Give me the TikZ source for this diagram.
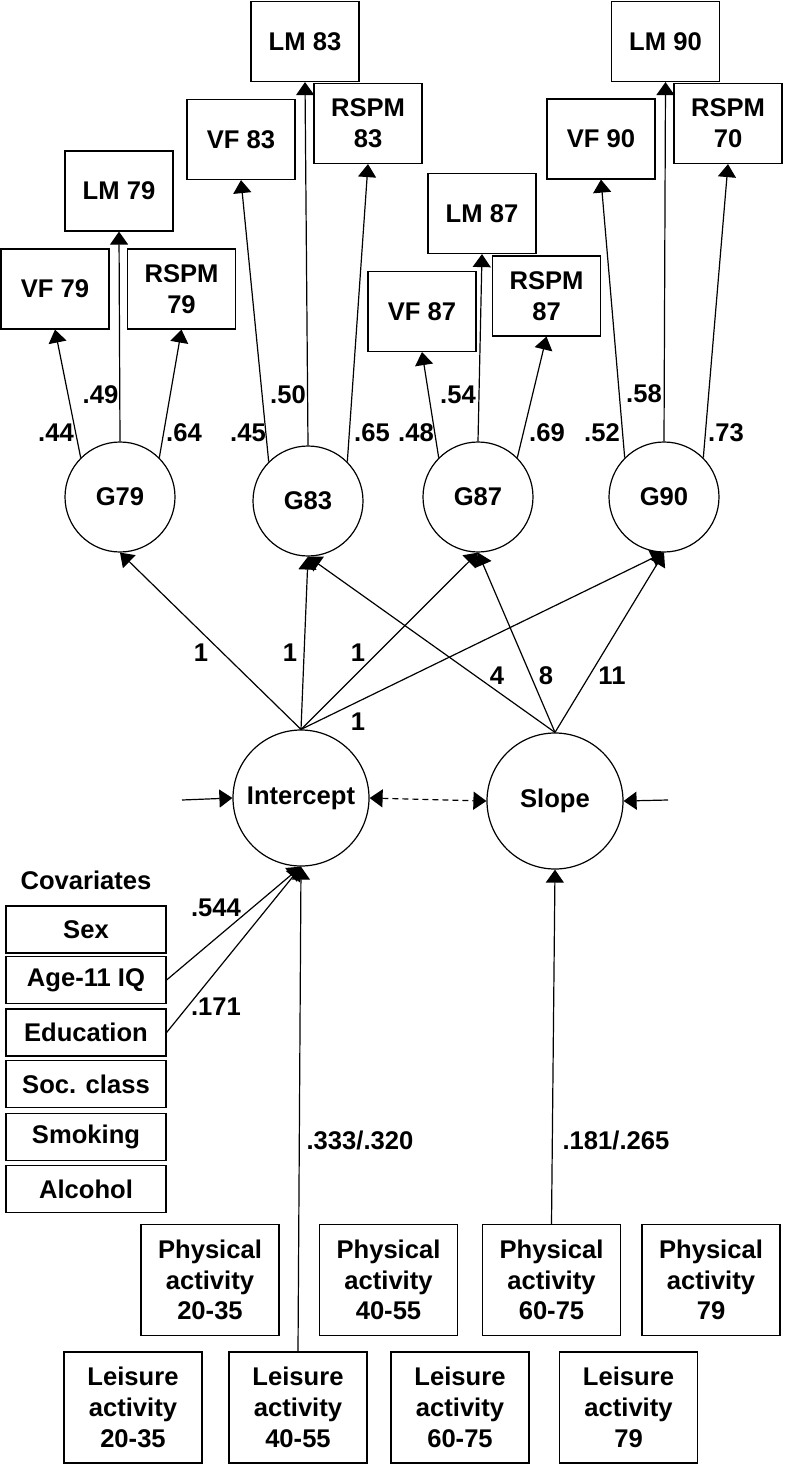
\documentclass[tikz,border=0pt]{standalone}
\usepackage{fontspec}
\setmainfont{Liberation Sans}
\usetikzlibrary{arrows.meta}
\tikzset{>={Triangle[length=6.5pt,width=9pt]}}

\begin{document}
\begin{tikzpicture}[x=0.5pt,y=-0.5pt,font=\fontsize{12.8}{15.4}\selectfont\bfseries]
            \tikzset{box/.style={draw, line width=0.6pt, minimum width=54pt, minimum height=40pt, inner sep=0pt, align=center},
                latent/.style={draw, circle, line width=0.6pt, minimum size=55pt, inner sep=0pt},
                growth/.style={draw, circle, line width=0.6pt, minimum size=68pt, inner sep=0pt},
                covbox/.style={draw, line width=0.6pt, minimum width=80pt, minimum height=23.5pt, inner sep=0pt},
                actbox/.style={draw, line width=0.6pt, minimum width=69pt, minimum height=55.5pt, inner sep=0pt, align=center},
                edge/.style={->, line width=0.6pt},
                weight/.style={inner sep=0pt}}
            \useasboundingbox (0,0) rectangle (784,1466);
            \node[box] (vf79) at (55,289) {VF 79};
            \node[box] (lm79) at (119,191) {LM 79};
            \node[box] (rs79) at (181.5,289) {RSPM\\79};
            \node[box] (vf83) at (241,139.5) {VF 83};
            \node[box] (lm83) at (305,41.5) {LM 83};
            \node[box] (rs83) at (368,123.5) {RSPM\\83};
            \node[box] (vf87) at (422,311.5) {VF 87};
            \node[box] (lm87) at (482,213.5) {LM 87};
            \node[box] (rs87) at (546.5,296) {RSPM\\87};
            \node[box] (vf90) at (601,139) {VF 90};
            \node[box] (lm90) at (665.5,41.5) {LM 90};
            \node[box] (rs90) at (728,123.5) {RSPM\\70};
            \node[latent] (g79) at (120,497) {G79};
            \node[latent] (g83) at (308,501) {G83};
            \node[latent] (g87) at (478,497) {G87};
            \node[latent] (g90) at (664,497) {G90};
            \node[growth] (int) at (301,798) {Intercept};
            \node[growth] (slope) at (555,801) {Slope};
            \node (covs) at (86,880) {Covariates};
            \node[covbox] (sex) at (86,929.5) {Sex};
            \node[covbox] (age) at (86,980) {Age-11 IQ};
            \node[covbox] (edu) at (86,1032.5) {Education};
            \node[covbox] (soc) at (86,1084) {Soc. class};
            \node[covbox] (smok) at (86,1137) {Smoking};
            \node[covbox] (alc) at (86,1189) {Alcohol};
            \node[actbox] (pa2035) at (210,1280) {Physical\\activity\\20-35};
            \node[actbox] (pa4055) at (388.5,1280) {Physical\\activity\\40-55};
            \node[actbox] (pa6075) at (551.5,1280) {Physical\\activity\\60-75};
            \node[actbox] (pa79) at (711,1280) {Physical\\activity\\79};
            \node[actbox] (la2035) at (133,1407.5) {Leisure\\activity\\20-35};
            \node[actbox] (la4055) at (298,1407.5) {Leisure\\activity\\40-55};
            \node[actbox] (la6075) at (460,1407.5) {Leisure\\activity\\60-75};
            \node[actbox] (la79) at (628.5,1407.5) {Leisure\\activity\\79};
            \draw[edge] (g79.135) -- (vf79.south);
            \draw[edge] (g79.north) -- (lm79.south);
            \draw[edge] (g79.45) -- (rs79.south);
            \draw[edge] (g83.135) -- (vf83.south);
            \draw[edge] (g83.north) -- (lm83.south);
            \draw[edge] (g83.45) -- (rs83.south);
            \draw[edge] (g87.135) -- (vf87.south);
            \draw[edge] (g87.north) -- (lm87.south);
            \draw[edge] (g87.45) -- (rs87.south);
            \draw[edge] (g90.135) -- (vf90.south);
            \draw[edge] (g90.north) -- (lm90.south);
            \draw[edge] (g90.45) -- (rs90.south);
            \draw[edge] (int.north) -- (g79.south);
            \draw[edge] (int.north) -- (g83.south);
            \draw[edge] (int.north) -- (g87.south);
            \draw[edge] (int.north) -- (g90.south);
            \draw[edge] (slope.north) -- (g83.south);
            \draw[edge] (slope.north) -- (g87.south);
            \draw[edge] (slope.north) -- (g90.south);
            \coordinate (dint) at (182,800);
            \coordinate (dslope) at (668,800);
            \draw[edge] (dint) -- (int.west);
            \draw[edge] (dslope) -- (slope.east);
            \draw[<->, line width=0.6pt, dash pattern=on 3pt off 2pt] (int.east) -- (slope.west);
            \draw[edge] (age.east) -- (int.south);
            \draw[edge] (edu.east) -- (int.south);
            \draw[edge] (la4055.north) -- (int.south);
            \draw[edge] (pa6075.north) -- (slope.south);
            \node[weight] (w44) at (56,433) {.44};
            \node[weight] (w49) at (100.5,395) {.49};
            \node[weight] (w64) at (184,433) {.64};
            \node[weight] (w45) at (248,433) {.45};
            \node[weight] (w50) at (288,395) {.50};
            \node[weight] (w65) at (372,433) {.65};
            \node[weight] (w48) at (416,433) {.48};
            \node[weight] (w54) at (458,395) {.54};
            \node[weight] (w69) at (547,433) {.69};
            \node[weight] (w52) at (602,433) {.52};
            \node[weight] (w58) at (644,394) {.58};
            \node[weight] (w73) at (726,433) {.73};
            \node[weight] (i79) at (201,653) {1};
            \node[weight] (i83) at (290,653) {1};
            \node[weight] (i87) at (358,653) {1};
            \node[weight] (i90) at (358,722) {1};
            \node[weight] (s83) at (497,676) {4};
            \node[weight] (s87) at (546,676) {8};
            \node[weight] (s90) at (612,676) {11};
            \node[weight] (wage) at (216,908) {.544};
            \node[weight] (wedu) at (216,1007) {.171};
            \node[weight] (wla) at (360,1140) {.333/.320};
            \node[weight] (wpa) at (616,1140) {.181/.265};
        \end{tikzpicture}
\end{document}
